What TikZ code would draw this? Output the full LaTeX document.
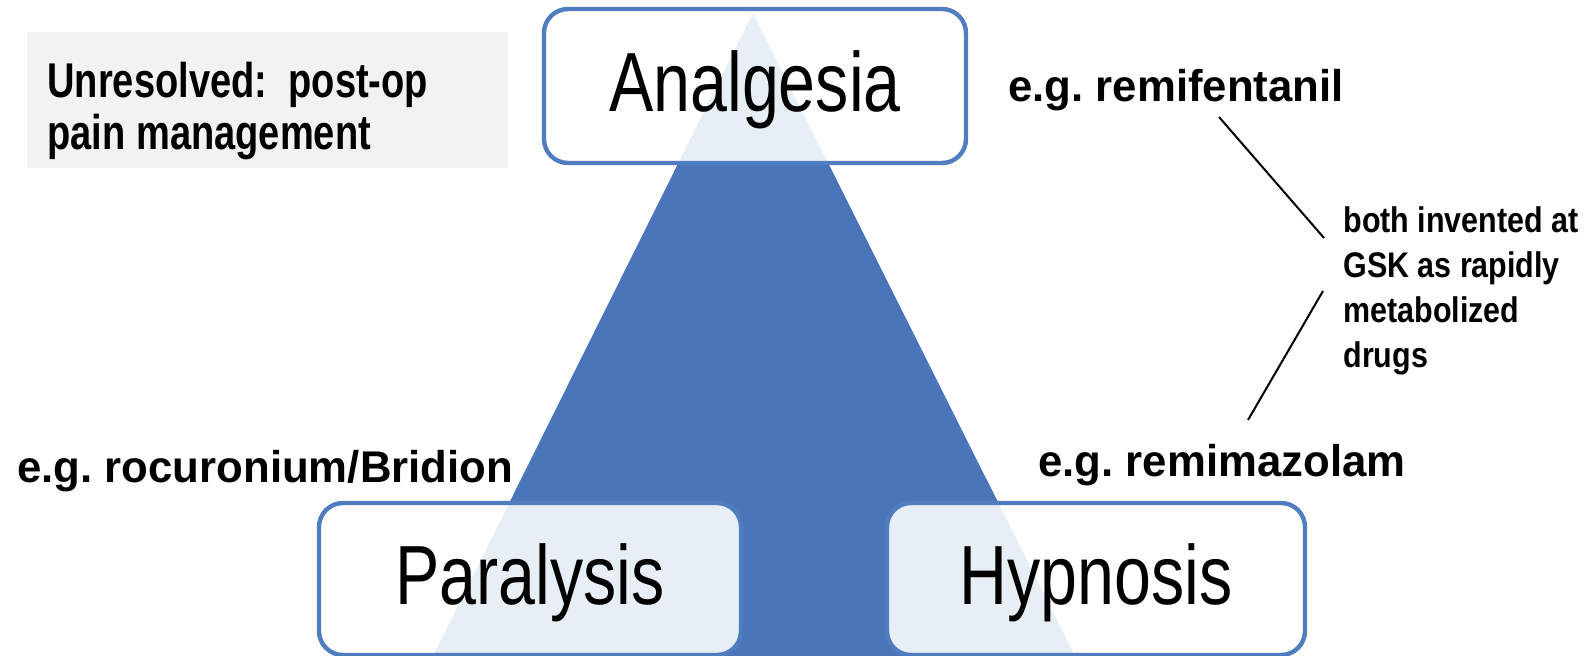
\documentclass[tikz,border=0pt]{standalone}
\usepackage{fontspec}
\setmainfont{Liberation Sans}
\newfontfamily\bigfont{Liberation Sans}[FakeStretch=0.79]
\newfontfamily\unresfont{Liberation Sans}[FakeStretch=0.78]
\newfontfamily\notefont{Liberation Sans}[FakeStretch=0.855]
\newfontfamily\egfont{Liberation Sans}[FakeStretch=0.985]
\definecolor{triblue}{HTML}{4A76B9}
\definecolor{boxblue}{HTML}{4F7DBF}
\definecolor{graybg}{HTML}{F2F2F2}
\frenchspacing
\begin{document}
\begin{tikzpicture}[x=0.5pt,y=-0.5pt,
  catbox/.style={draw=boxblue, line width=2.2pt, rounded corners=12pt,
    fill=white, fill opacity=0.88, text opacity=1, inner sep=0pt,
    text height=30pt, text depth=4pt,
    font=\bigfont\fontsize{42}{44}\selectfont},
  eglabel/.style={anchor=base west, inner sep=0pt,
    font=\egfont\bfseries\fontsize{22.2}{24}\selectfont},
  notetext/.style={anchor=base west, inner sep=0pt,
    font=\notefont\bfseries\fontsize{17.8}{22.35}\selectfont},
  unrestext/.style={anchor=base west, inner sep=0pt,
    font=\unresfont\bfseries\fontsize{24.4}{26}\selectfont},
  graybox/.style={fill=graybg, draw=none, inner sep=0pt},
  connector/.style={draw=black, line width=1pt}
]
\useasboundingbox (0,0) rectangle (1591,656);
% triangle
\coordinate (apex) at (753,13);
\coordinate (bl) at (433,656);
\coordinate (br) at (1075,656);
\fill[triblue] (apex) -- (br) -- (bl) -- cycle;
% category boxes
\node[catbox, minimum width=211pt, minimum height=77pt] (ana) at (755,86) {Analgesia};
\node[catbox, minimum width=211pt, minimum height=76pt] (para) at (530,579) {Paralysis};
\node[catbox, minimum width=209pt, minimum height=76pt] (hyp) at (1096,579) {Hypnosis};
% unresolved box
\node[graybox, minimum width=240.5pt, minimum height=68pt] (unres) at (267.5,100) {};
\node[unrestext] (unrestxt) at (47,98) {\begin{tabular}[t]{@{}l@{}}Unresolved:\ \ post-op\\ pain management\end{tabular}};
% example labels
\node[eglabel] (remif) at (1008,102) {e.g. remifentanil};
\node[eglabel] (rocur) at (17,483) {e.g. rocuronium/Bridion};
\node[eglabel] (remim) at (1038,477) {e.g. remimazolam};
% note
\node[notetext] (note) at (1343,233) {\begin{tabular}[t]{@{}l@{}}both invented at\\ GSK as rapidly\\ metabolized\\ drugs\end{tabular}};
% connectors
\coordinate (c1a) at (1219,117);
\coordinate (c1b) at (1324,238);
\coordinate (c2a) at (1323,291);
\coordinate (c2b) at (1248,420);
\draw[connector] (c1a) -- (c1b);
\draw[connector] (c2a) -- (c2b);
\end{tikzpicture}
\end{document}
